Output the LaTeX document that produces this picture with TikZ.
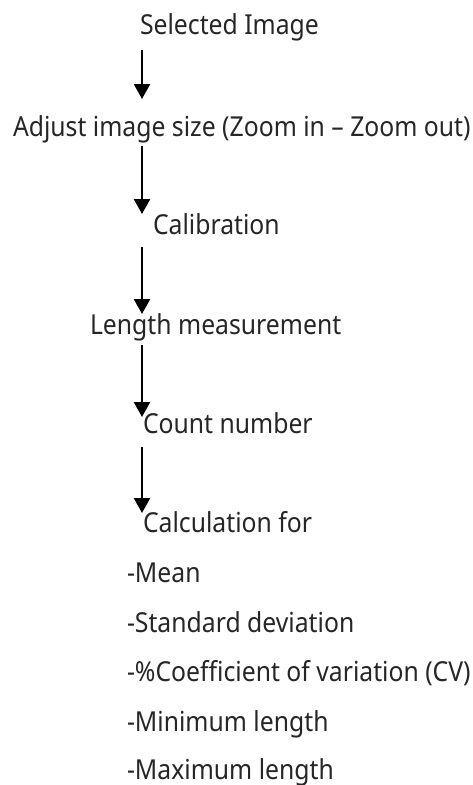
\documentclass[tikz,border=0pt]{standalone}
\usepackage{fontspec}
\setmainfont{Noto Sans}[FakeStretch=0.9]
\usetikzlibrary{arrows.meta}
\begin{document}
\begin{tikzpicture}[x=1bp,y=-1bp,
  lbl/.style={anchor=base west,inner sep=0pt,outer sep=0pt,text=black!85,font=\fontsize{27.5bp}{32bp}\selectfont},
  flow/.style={line width=2.4bp,-{Triangle[width=16bp,length=15bp]}}]
\useasboundingbox (0,0) rectangle (473,785);
\node[lbl] (sel) at (140,35) {Selected Image};
\node[lbl] (adj) at (13,136) {Adjust image size (Zoom in – Zoom out)};
\node[lbl] (cal) at (153,234) {Calibration};
\node[lbl] (len) at (90,334) {Length measurement};
\node[lbl] (cnt) at (143,433) {Count number};
\node[lbl] (calc) at (143,532) {Calculation for};
\node[lbl] (mean) at (127,582) {-Mean};
\node[lbl] (sd) at (127,632) {-Standard deviation};
\node[lbl] (cv) at (127,681) {-\%Coefficient of variation (CV)};
\node[lbl] (min) at (127,731) {-Minimum length};
\node[lbl] (max) at (127,779) {-Maximum length};
\coordinate (a1s) at (142,50);  \coordinate (a1e) at (142,99);
\coordinate (a2s) at (142,146); \coordinate (a2e) at (142,214);
\coordinate (a3s) at (142,247); \coordinate (a3e) at (142,314);
\coordinate (a4s) at (142,345); \coordinate (a4e) at (142,417);
\coordinate (a5s) at (142,447); \coordinate (a5e) at (142,513);
\draw[flow] (a1s) -- (a1e);
\draw[flow] (a2s) -- (a2e);
\draw[flow] (a3s) -- (a3e);
\draw[flow] (a4s) -- (a4e);
\draw[flow] (a5s) -- (a5e);
\end{tikzpicture}
\end{document}
